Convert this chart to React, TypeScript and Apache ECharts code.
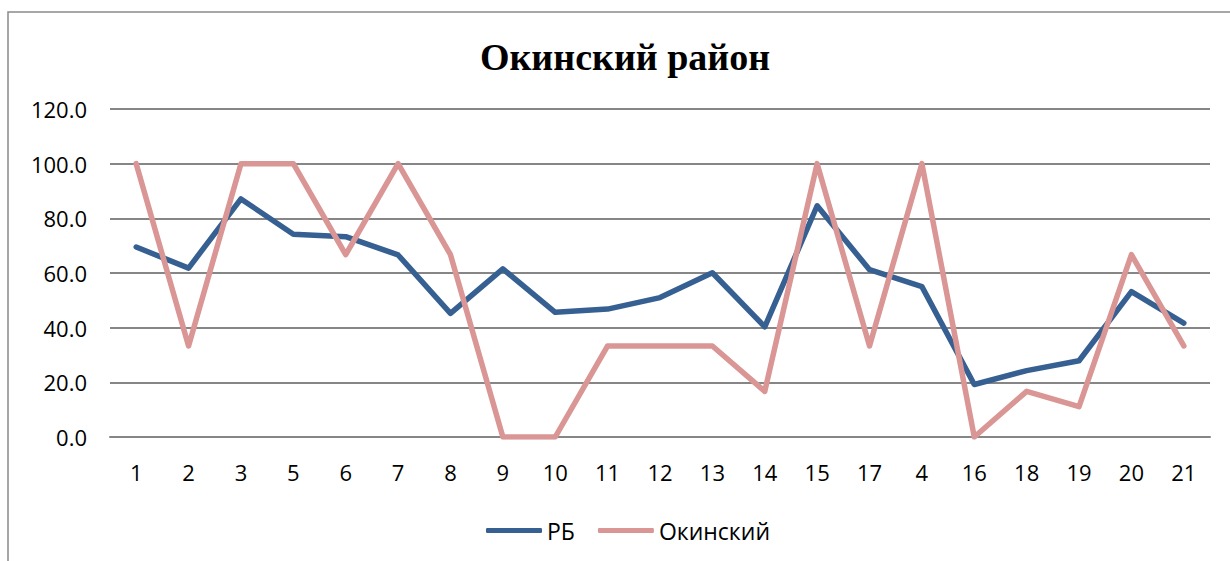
import React, { useEffect, useRef } from "react";
import * as echarts from "echarts";

const categories = ["1","2","3","5","6","7","8","9","10","11","12","13","14","15","17","4","16","18","19","20","21"];
const rbValues = [69.5,61.8,87.1,74.2,73.3,66.6,45.2,61.5,45.6,46.8,51.0,60.1,40.3,84.6,61.2,55.0,19.2,24.3,27.9,53.2,41.7];
const okinValues = [100,33.3,100,100,66.7,100,66.7,0,0,33.3,33.3,33.3,16.7,100,33.3,100,0,16.7,11.1,66.7,33.3];
const yTicks = { min: 0, max: 120, interval: 20 };
const titleText = "Окинский район";
const seriesNames = ["РБ", "Окинский"];

export default function App() {
  const ref = useRef<HTMLDivElement>(null);
  useEffect(() => {
    if (!ref.current) return;
    const chart = echarts.init(ref.current, null, { renderer: "svg" });
    chart.setOption({
      animation: false,
      backgroundColor: "#ffffff",
      title: {
        text: titleText,
        left: 620,
        textAlign: "center",
        top: 33,
        textStyle: { fontFamily: "Liberation Serif", fontWeight: "bold", fontSize: 38, color: "#000" },
      },
      graphic: [
        {
          type: "rect",
          shape: { x: 8, y: 12, width: 1300, height: 600 },
          style: { fill: "none", stroke: "#8a8a8a", lineWidth: 1.5 },
          silent: true,
        },
      ],
      legend: {
        top: 514,
        left: 481,
        itemWidth: 56,
        itemHeight: 5,
        itemGap: 23,
        icon: "roundRect",
        textStyle: { fontFamily: "Open Sans", fontSize: 23, color: "#000" },
        data: seriesNames,
      },
      grid: { left: 110, right: 20, top: 109, bottom: 124 },
      xAxis: {
        type: "category",
        data: categories,
        boundaryGap: true,
        axisLine: { lineStyle: { color: "#868686", width: 2 } },
        axisTick: { show: false },
        axisLabel: { fontFamily: "Open Sans", fontSize: 22, color: "#000", margin: 24 },
      },
      yAxis: {
        type: "value",
        min: yTicks.min,
        max: yTicks.max,
        interval: yTicks.interval,
        axisLine: { show: false },
        axisTick: { show: false },
        splitLine: { lineStyle: { color: "#868686", width: 2 } },
        axisLabel: {
          fontFamily: "Open Sans",
          fontSize: 22,
          color: "#000",
          margin: 23,
          formatter: (v: number) => v.toFixed(1),
        },
      },
      series: [
        {
          name: seriesNames[0],
          type: "line",
          data: rbValues,
          symbol: "none",
          lineStyle: { color: "#376092", width: 5.5, cap: "round", join: "round" },
          itemStyle: { color: "#376092" },
        },
        {
          name: seriesNames[1],
          type: "line",
          data: okinValues,
          symbol: "none",
          lineStyle: { color: "#d99694", width: 5.5, cap: "round", join: "round" },
          itemStyle: { color: "#d99694" },
        },
      ],
    });
    return () => chart.dispose();
  }, []);
  return <div ref={ref} style={{ position: "absolute", left: 0, top: 0, width: 1230, height: 561 }} />;
}
